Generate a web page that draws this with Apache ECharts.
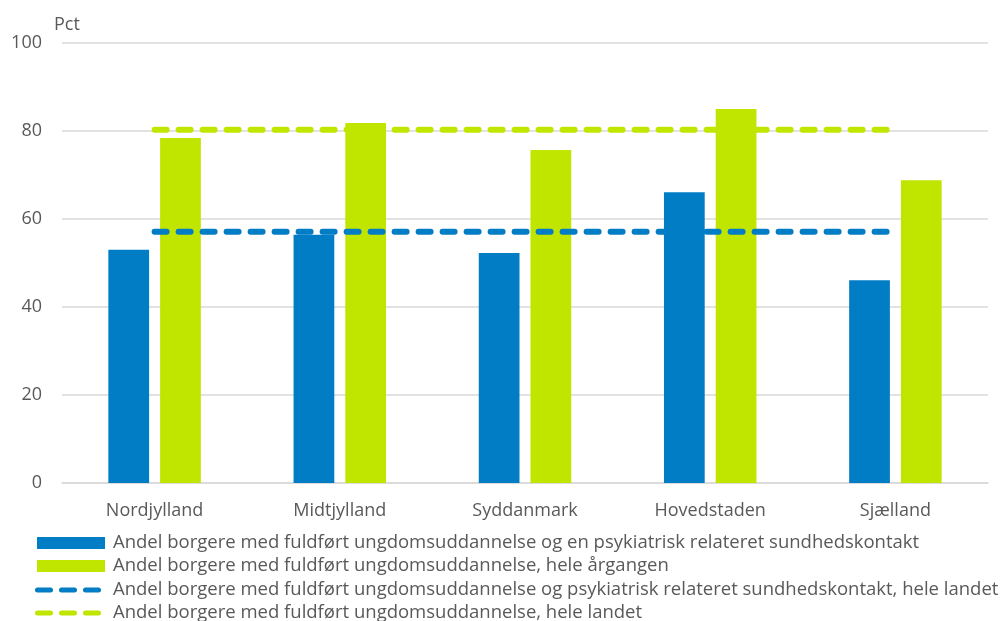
<!DOCTYPE html>
<html>
<head>
<meta charset="utf-8">
<script src="https://cdn.jsdelivr.net/npm/echarts@6/dist/echarts.min.js"></script>
<style>
  html, body { margin: 0; padding: 0; background: #fff; }
  #chart { width: 1003px; height: 621px; }
</style>
</head>
<body>
<div id="chart"></div>
<script>
const regions = ["Nordjylland", "Midtjylland", "Syddanmark", "Hovedstaden", "Sjælland"];
const psykiatrisk = [53.0, 56.4, 52.3, 66.1, 46.1];
const heleAargangen = [78.4, 81.8, 75.7, 85.0, 68.8];
const psykLandet = [57.1, 57.1, 57.1, 57.1, 57.1];
const heleLandet = [80.3, 80.3, 80.3, 80.3, 80.3];
const yTicks = [0, 20, 40, 60, 80, 100];

const names = [
  "Andel borgere med fuldført ungdomsuddannelse og en psykiatrisk relateret sundhedskontakt",
  "Andel borgere med fuldført ungdomsuddannelse, hele årgangen",
  "Andel borgere med fuldført ungdomsuddannelse og psykiatrisk relateret sundhedskontakt, hele landet",
  "Andel borgere med fuldført ungdomsuddannelse, hele landet"
];

const blue = "#007DC5";
const green = "#C0E600";
const grey = "#595959";
const font = "'Open Sans', Lato, sans-serif";

// three rounded dashes, used as legend icon for the "hele landet" lines
function capsule(x0, x1) {
  return "M" + (x0 + 2.5) + " 0 L" + (x1 - 2.5) + " 0 A2.5 2.5 0 0 1 " + (x1 - 2.5) +
    " 5 L" + (x0 + 2.5) + " 5 A2.5 2.5 0 0 1 " + (x0 + 2.5) + " 0 Z ";
}
const dashIcon = "path://" + capsule(0, 18) + capsule(24, 42) + capsule(48, 66);

function legendRow(name, top, dashed) {
  return {
    orient: "horizontal",
    left: dashed ? 35 : 37,
    top: top,
    padding: 0,
    itemWidth: dashed ? 66 : 68,
    itemHeight: dashed ? 5 : 12,
    selectedMode: false,
    textStyle: {
      fontSize: 18.5,
      lineHeight: 20,
      color: grey,
      fontFamily: font,
      padding: [0, 0, 0, dashed ? 7 : 3]
    },
    data: [{ name: name, icon: dashed ? dashIcon : "rect" }]
  };
}

const chart = echarts.init(document.getElementById("chart"));

const option = {
  animation: false,
  textStyle: { fontFamily: font },
  grid: { left: 62, right: 15, top: 43, bottom: 138 },
  legend: [
    legendRow(names[0], 533, false),
    legendRow(names[1], 556, false),
    legendRow(names[2], 580, true),
    legendRow(names[3], 603, true)
  ],
  xAxis: {
    type: "category",
    data: regions,
    axisLine: { lineStyle: { color: "#d9d9d9", width: 1.5 } },
    axisTick: { show: false },
    axisLabel: { fontSize: 18, color: grey, margin: 19 }
  },
  yAxis: {
    type: "value",
    min: yTicks[0],
    max: yTicks[yTicks.length - 1],
    interval: 20,
    name: "Pct",
    nameLocation: "end",
    nameGap: 9,
    nameTextStyle: { fontSize: 18, color: grey, align: "left", padding: [0, 0, 0, -8] },
    axisLine: { show: false },
    axisTick: { show: false },
    splitLine: { lineStyle: { color: "#d9d9d9", width: 1.5 } },
    axisLabel: { fontSize: 18, color: grey, margin: 20 }
  },
  series: [
    {
      name: names[0],
      type: "bar",
      data: psykiatrisk,
      barWidth: "22%",
      barGap: "27%",
      itemStyle: { color: blue }
    },
    {
      name: names[1],
      type: "bar",
      data: heleAargangen,
      barWidth: "22%",
      itemStyle: { color: green }
    },
    {
      name: names[2],
      type: "line",
      data: psykLandet,
      symbol: "none",
      z: 5,
      lineStyle: { color: blue, width: 6, type: [12, 12], cap: "round" },
      itemStyle: { color: blue }
    },
    {
      name: names[3],
      type: "line",
      data: heleLandet,
      symbol: "none",
      z: 5,
      lineStyle: { color: green, width: 6, type: [12, 12], cap: "round" },
      itemStyle: { color: green }
    }
  ]
};

chart.setOption(option);
</script>
</body>
</html>
